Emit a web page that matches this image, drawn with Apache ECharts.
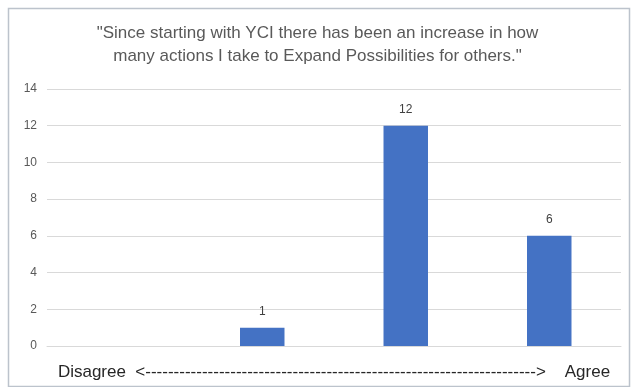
<!DOCTYPE html>
<html>
<head>
<meta charset="utf-8">
<script src="https://cdn.jsdelivr.net/npm/echarts@6/dist/echarts.min.js"></script>
<style>html,body{margin:0;padding:0;background:#fff;}#c{width:635px;height:387px;}</style>
</head>
<body>
<div id="c"></div>
<script>
var titleLines = ['"Since starting with YCI there has been an increase in how', 'many actions I take to Expand Possibilities for others."'];
var categories = ['1', '2', '3', '4'];
var values = [0, 1, 12, 6];
var axisName = 'Disagree  <--------------------------------------------------------------------->    Agree';

var chart = echarts.init(document.getElementById('c'), null, {renderer: 'canvas'});
chart.setOption({
  animation: false,
  backgroundColor: '#ffffff',
  title: {
    text: titleLines.join('\n'),
    left: 'center',
    top: 17,
    textStyle: {fontFamily: 'Liberation Sans', fontSize: 17, fontWeight: 'normal', color: '#595959', lineHeight: 23}
  },
  graphic: [{
    type: 'rect', left: 6, top: 6,
    shape: {width: 621, height: 378},
    style: {fill: 'none', stroke: '#bcc3cc', lineWidth: 1.5},
    silent: true
  }],
  grid: {left: 47, right: 14, top: 89, bottom: 41, outerBoundsMode: 'none', containLabel: false},
  xAxis: {
    type: 'category',
    data: categories,
    axisLine: {show: true, lineStyle: {color: '#d9d9d9'}},
    axisTick: {show: false},
    axisLabel: {show: false},
    name: axisName,
    nameLocation: 'middle',
    nameGap: 18,
    nameTextStyle: {fontFamily: 'Liberation Sans', fontSize: 17, color: '#262626'}
  },
  yAxis: {
    type: 'value',
    min: 0, max: 14, interval: 2,
    axisLine: {show: false},
    axisTick: {show: false},
    axisLabel: {fontFamily: 'Liberation Sans', fontSize: 12, color: '#595959', margin: 10},
    splitLine: {lineStyle: {color: '#d9d9d9'}}
  },
  series: [{
    type: 'bar',
    data: values,
    barWidth: '31%',
    itemStyle: {color: '#4472C4'},
    label: {
      show: true, position: 'top', distance: 10,
      fontFamily: 'Liberation Sans', fontSize: 12, color: '#404040',
      formatter: function (p) { return p.value === 0 ? '' : String(p.value); }
    }
  }]
});
</script>
</body>
</html>
